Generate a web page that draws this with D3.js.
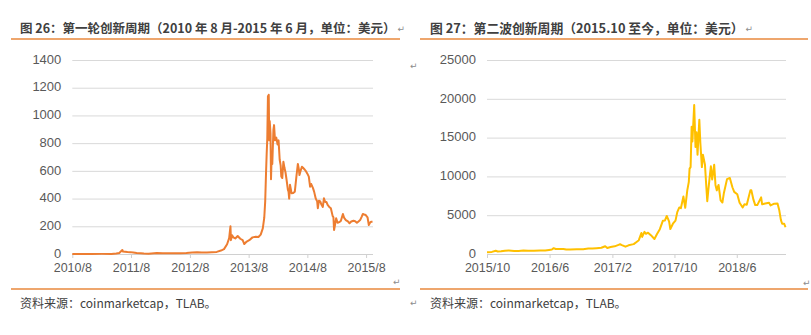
<!DOCTYPE html>
<html>
<head>
<meta charset="utf-8">
<script src="https://cdn.jsdelivr.net/npm/d3@7"></script>
<style>
  body { margin: 0; background: #fff; }
  svg { display: block; }
</style>
</head>
<body>
<svg id="chart" width="811" height="335"></svg>
<script>
// ---- Figure 26: first innovation cycle (BTC price, USD) ----
const cycle1Title = "图 26：第一轮创新周期（2010 年 8 月-2015 年 6 月，单位：美元）";
const cycle1YTicks = [0, 200, 400, 600, 800, 1000, 1200, 1400];
const cycle1XTicks = ["2010/8", "2011/8", "2012/8", "2013/8", "2014/8", "2015/8"];
const cycle1Dates = [
  "2010-08-01","2010-10-01","2010-12-01","2011-02-01","2011-04-01","2011-05-01","2011-05-20",
  "2011-06-08","2011-06-12","2011-06-25","2011-07-10","2011-07-28","2011-08-15","2011-09-05",
  "2011-10-01","2011-10-20","2011-11-18","2012-01-08","2012-02-15","2012-04-01","2012-06-01",
  "2012-07-10","2012-08-15","2012-09-15","2012-10-15","2012-11-15","2012-12-15","2013-01-15",
  "2013-02-10","2013-03-01","2013-03-20","2013-04-02","2013-04-10","2013-04-13","2013-04-20",
  "2013-04-28","2013-05-10","2013-05-25","2013-06-10","2013-06-25","2013-07-05","2013-07-20",
  "2013-08-05","2013-08-25","2013-09-15","2013-10-01","2013-10-15","2013-10-28","2013-11-06",
  "2013-11-12","2013-11-17","2013-11-21","2013-11-25","2013-11-29","2013-12-02","2013-12-04",
  "2013-12-07","2013-12-10","2013-12-15","2013-12-18","2013-12-22","2013-12-26","2014-01-02",
  "2014-01-06","2014-01-12","2014-01-20","2014-01-28","2014-02-03","2014-02-10","2014-02-16",
  "2014-02-20","2014-02-26","2014-03-05","2014-03-12","2014-03-18","2014-03-25","2014-04-02",
  "2014-04-06","2014-04-10","2014-04-15","2014-04-20","2014-04-25","2014-05-05","2014-05-15",
  "2014-05-25","2014-06-03","2014-06-08","2014-06-13","2014-06-20","2014-06-28","2014-07-05",
  "2014-07-15","2014-07-25","2014-08-01","2014-08-10","2014-08-18","2014-08-25","2014-09-05",
  "2014-09-12","2014-09-22","2014-10-01","2014-10-05","2014-10-12","2014-10-20","2014-10-28",
  "2014-11-05","2014-11-12","2014-11-20","2014-11-28","2014-12-05","2014-12-15","2014-12-25",
  "2015-01-05","2015-01-10","2015-01-14","2015-01-20","2015-01-27","2015-02-05","2015-02-15",
  "2015-02-25","2015-03-10","2015-03-18","2015-03-28","2015-04-10","2015-04-20","2015-05-01",
  "2015-05-15","2015-05-25","2015-06-05","2015-06-15","2015-06-25","2015-07-05","2015-07-12",
  "2015-07-20","2015-07-30","2015-08-10","2015-08-18","2015-08-25","2015-09-01","2015-09-10"
];
const cycle1Prices = [
  0.07, 0.1, 0.25, 0.9, 0.8, 3.5, 7,
  29, 18, 16, 14, 13.5, 11, 7,
  5, 3, 2.5, 7, 5, 5, 5.5,
  7, 11, 12, 11.5, 11, 13.5, 15,
  25, 35, 70, 115, 200, 100, 135,
  120, 112, 130, 110, 100, 72, 90,
  100, 120, 125, 123, 140, 185, 260,
  380, 580, 720, 835, 1140, 1030, 1150,
  820, 960, 870, 540, 700, 650, 895,
  930, 820, 840, 790, 820, 680, 640,
  560, 548, 666, 620, 590, 534, 462,
  450, 400, 500, 470, 438, 440, 450,
  560, 650, 620, 570, 600, 630, 622,
  610, 594, 580, 558, 486, 505, 475,
  450, 400, 380, 330, 385, 380, 355,
  340, 402, 375, 375, 354, 340, 330,
  275, 265, 173, 210, 258, 225, 230,
  238, 289, 260, 245, 235, 222, 235,
  240, 237, 225, 235, 245, 270, 289,
  285, 281, 265, 209, 225, 233, 233
];

// ---- Figure 27: second innovation cycle (BTC price, USD) ----
const cycle2Title = "图 27：第二波创新周期（2015.10 至今，单位：美元）";
const cycle2YTicks = [0, 5000, 10000, 15000, 20000, 25000];
const cycle2XTicks = ["2015/10", "2016/6", "2017/2", "2017/10", "2018/6"];
const cycle2Dates = [
  "2015-10-01","2015-10-20","2015-11-04","2015-11-12","2015-11-25","2015-12-10","2015-12-25",
  "2016-01-15","2016-02-01","2016-02-20","2016-03-10","2016-04-01","2016-04-25","2016-05-15",
  "2016-05-30","2016-06-10","2016-06-17","2016-06-25","2016-07-10","2016-07-25","2016-08-05",
  "2016-08-20","2016-09-15","2016-10-10","2016-10-30","2016-11-15","2016-12-01","2016-12-20",
  "2017-01-04","2017-01-12","2017-01-25","2017-02-10","2017-02-25","2017-03-03","2017-03-10",
  "2017-03-24","2017-04-05","2017-04-25","2017-05-05","2017-05-15","2017-05-25","2017-05-28",
  "2017-06-06","2017-06-12","2017-06-20","2017-07-01","2017-07-15","2017-07-25","2017-08-05",
  "2017-08-17","2017-08-25","2017-09-01","2017-09-10","2017-09-15","2017-09-25","2017-10-05",
  "2017-10-12","2017-10-20","2017-10-26","2017-11-05","2017-11-12","2017-11-20","2017-11-26",
  "2017-11-29","2017-12-03","2017-12-07","2017-12-10","2017-12-17","2017-12-22","2017-12-26",
  "2017-12-30","2018-01-06","2018-01-10","2018-01-16","2018-01-20","2018-01-28","2018-02-02",
  "2018-02-06","2018-02-10","2018-02-16","2018-02-20","2018-02-25","2018-03-05","2018-03-10",
  "2018-03-15","2018-03-22","2018-03-30","2018-04-06","2018-04-12","2018-04-24","2018-05-05",
  "2018-05-15","2018-05-22","2018-06-03","2018-06-12","2018-06-24","2018-07-01","2018-07-10",
  "2018-07-24","2018-07-28","2018-08-05","2018-08-12","2018-08-20","2018-09-04","2018-09-08",
  "2018-09-20","2018-10-05","2018-10-11","2018-10-25","2018-11-07","2018-11-14","2018-11-20",
  "2018-11-25","2018-12-03","2018-12-08"
];
const cycle2Prices = [
  240, 270, 410, 330, 350, 420, 450,
  385, 375, 440, 415, 420, 460, 455,
  530, 580, 750, 650, 650, 655, 580,
  575, 605, 615, 700, 710, 750, 800,
  1000, 780, 900, 990, 1180, 1260, 1150,
  945, 1120, 1270, 1520, 1780, 2700, 2200,
  2860, 2600, 2750, 2430, 1930, 2570, 3200,
  4300, 4330, 4900, 4200, 3220, 3900, 4300,
  5400, 6000, 5900, 7400, 5950, 8200, 9300,
  11000, 11200, 16400, 14500, 19200, 13800, 15700,
  12800, 17300, 14300, 11200, 12800, 11500, 8800,
  6800, 8200, 10100, 11300, 9600, 11500, 8900,
  8200, 8900, 6900, 6630, 7900, 9650, 9800,
  8600, 8000, 7700, 6600, 6000, 6400, 6350,
  8200, 8200, 7000, 6300, 6300, 7300, 6400,
  6500, 6600, 6260, 6480, 6500, 5600, 4400,
  3900, 3900, 3450
];

const sourceNote = "资料来源：coinmarketcap，TLAB。";

const svg = d3.select("#chart");
const parseDay = d3.timeParse("%Y-%m-%d");
const parseMonth = d3.timeParse("%Y/%m");
const CJK = "'Noto Sans CJK SC', 'Noto Sans', sans-serif";
const LATIN = "'Liberation Sans', Arial, sans-serif";

function drawPanel(opt) {
  const g = svg.append("g");
  const points = opt.dates.map((d, i) => ({ date: parseDay(d), value: opt.prices[i] }));

  const x = d3.scaleTime()
    .domain([parseMonth(opt.xTicks[0]), parseDay(opt.domainEnd)])
    .range([opt.left, opt.right]);
  const y = d3.scaleLinear()
    .domain([0, d3.max(opt.yTicks)])
    .range([opt.bottom, opt.top]);

  // title and rules
  const title = g.append("text")
    .attr("x", opt.titleX).attr("y", 33)
    .attr("font-family", CJK).attr("font-size", opt.titleSize).attr("font-weight", 700)
    .attr("fill", "#404040")
    .text(opt.title);
  g.append("line")
    .attr("x1", opt.ruleLeft).attr("x2", opt.ruleRight)
    .attr("y1", 39).attr("y2", 39)
    .attr("stroke", "#e8893c").attr("stroke-width", 1.3);
  g.append("line")
    .attr("x1", opt.ruleLeft).attr("x2", opt.ruleRight)
    .attr("y1", 289).attr("y2", 289)
    .attr("stroke", "#e8893c").attr("stroke-width", 1.3);

  // horizontal gridlines + value labels
  const yAxis = d3.axisLeft(y)
    .tickValues(opt.yTicks)
    .tickSize(-(opt.right - opt.left))
    .tickPadding(11)
    .tickFormat(d3.format("d"));
  const yg = g.append("g").attr("transform", `translate(${opt.left},0)`).call(yAxis);
  yg.select(".domain").remove();
  yg.selectAll(".tick line").attr("stroke", "#d9d9d9").attr("stroke-width", 1);
  yg.selectAll(".tick text")
    .attr("dy", "0.25em")
    .attr("font-family", LATIN).attr("font-size", 13).attr("fill", "#595959");

  // date axis
  const xAxis = d3.axisBottom(x)
    .tickValues(opt.xTicks.map(parseMonth))
    .tickSize(4)
    .tickPadding(5)
    .tickFormat(d3.timeFormat("%Y/%-m"));
  const xg = g.append("g").attr("transform", `translate(0,${opt.bottom})`).call(xAxis);
  xg.select(".domain").attr("stroke", "#d0d0d0").attr("d", `M${opt.left},0.5H${opt.right}`);
  xg.selectAll(".tick line").attr("stroke", "#d0d0d0");
  xg.selectAll(".tick text")
    .attr("font-family", LATIN).attr("font-size", 12.5).attr("fill", "#595959");

  // price line
  g.append("path")
    .datum(points)
    .attr("fill", "none")
    .attr("stroke", opt.color)
    .attr("stroke-width", 2)
    .attr("stroke-linejoin", "round")
    .attr("d", d3.line().x(d => x(d.date)).y(d => y(d.value)));

  // source note
  g.append("text")
    .attr("x", opt.titleX).attr("y", 308)
    .attr("font-family", CJK).attr("font-size", 12).attr("fill", "#404040")
    .text(sourceNote);

  // paragraph marks (the title's mark follows the title text)
  const titleEnd = opt.titleX + title.node().getComputedTextLength();
  const marks = [[titleEnd + 2, 32]].concat(opt.marks);
  marks.forEach(m => {
    g.append("text")
      .attr("x", m[0]).attr("y", m[1])
      .attr("font-family", "'DejaVu Sans', sans-serif").attr("font-size", 9)
      .attr("fill", "#8c8c8c")
      .text("↵");
  });
}

drawPanel({
  title: cycle1Title, titleSize: 12.5, dates: cycle1Dates, prices: cycle1Prices,
  yTicks: cycle1YTicks, xTicks: cycle1XTicks, domainEnd: "2015-09-13",
  left: 72.3, right: 373, top: 60, bottom: 254,
  titleX: 20, ruleLeft: 11, ruleRight: 400,
  color: "#ed7d31",
  marks: [[393, 285]]
});

drawPanel({
  title: cycle2Title, titleSize: 12.8, dates: cycle2Dates, prices: cycle2Prices,
  yTicks: cycle2YTicks, xTicks: cycle2XTicks, domainEnd: "2018-12-10",
  left: 487, right: 786, top: 60, bottom: 254,
  titleX: 430, ruleLeft: 420, ruleRight: 808,
  color: "#ffc000",
  marks: [[410, 69], [803, 286], [410, 306]]
});
</script>
</body>
</html>
